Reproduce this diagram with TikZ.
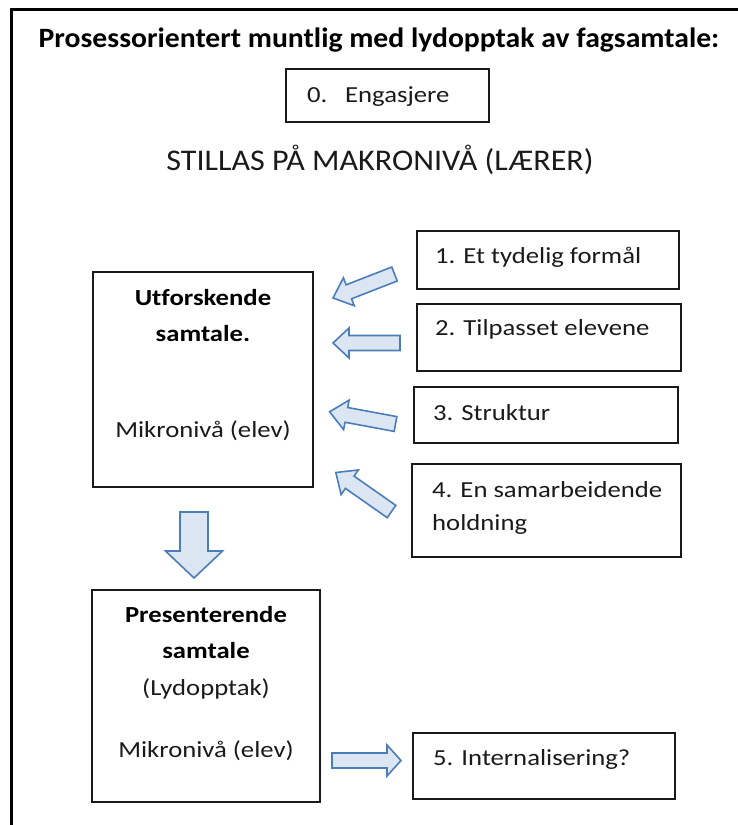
\documentclass[tikz,border=0pt]{standalone}
\usepackage{fontspec}
\setmainfont{Carlito}[FakeStretch=1.16, Ligatures=CommonOff]
\newfontfamily\titlefont{Carlito}[FakeStretch=1.06, Ligatures=CommonOff]
\newfontfamily\stillasfont{Carlito}[FakeStretch=1.07, Ligatures=CommonOff]
\definecolor{arrowblue}{HTML}{4A7EBB}
\definecolor{arrowfill}{HTML}{DCE6F2}
\definecolor{ink}{HTML}{1A1A1A}
\newcommand{\blockarrow}[6]{%
  \draw[barrow, shift={#1}, rotate=#2]
    (0,-#4) -- ({#3-#6},-#4) -- ({#3-#6},-#5) -- (#3,0) -- ({#3-#6},#5) -- ({#3-#6},#4) -- (0,#4) -- cycle;}
\begin{document}
\begin{tikzpicture}[x=1pt,y=-1pt,
  box/.style={draw=ink, line width=1.4pt, inner sep=0pt},
  barrow/.style={draw=arrowblue, fill=arrowfill, line width=1.6pt, line join=miter},
  body/.style={font=\fontsize{23}{27}\selectfont, inner sep=0pt, text=ink},
  bodyb/.style={font=\bfseries\fontsize{23}{27}\selectfont, inner sep=0pt, text=black},
]
\useasboundingbox (0,0) rectangle (738,825);
\begin{scope}
  \clip (0,0) rectangle (738,825);
  \draw[line width=3pt, draw=black] (11.5,9.5) rectangle (760,850);
\end{scope}

% title
\node[font=\titlefont\bfseries\fontsize{28}{32}\selectfont, inner sep=0pt, anchor=base] (title) at (379,47) {Prosessorientert muntlig med lydopptak av fagsamtale:};

% box 0
\node[box, minimum width=203pt, minimum height=53pt] (b0) at (387.5,95.5) {};
\node[body, anchor=base west] (t0) at (307,102) {\makebox[38pt][l]{0.}Engasjere};

\node[font=\stillasfont\fontsize{30}{34}\selectfont, inner sep=0pt, anchor=base, text=ink] (stillas) at (380,170) {STILLAS PÅ MAKRONIVÅ (LÆRER)};

% right boxes
\node[box, minimum width=262pt, minimum height=58pt] (b1) at (548,260) {};
\node[body, anchor=base west] (t1) at (435,263) {1. Et tydelig formål};
\node[box, minimum width=264pt, minimum height=67pt] (b2) at (549,337.5) {};
\node[body, anchor=base west] (t2) at (435,335) {2. Tilpasset elevene};
\node[box, minimum width=264pt, minimum height=56pt] (b3) at (546,415) {};
\node[body, anchor=base west] (t3) at (433,420) {3. Struktur};
\node[box, minimum width=269pt, minimum height=93pt] (b4) at (546.5,510.5) {};
\node[body, anchor=base west] (t4a) at (432,497) {4. En samarbeidende};
\node[body, anchor=base west] (t4b) at (432,530) {holdning};
\node[box, minimum width=262pt, minimum height=66pt] (b5) at (544,766) {};
\node[body, anchor=base west] (t5) at (433,765) {5. Internalisering?};

% left boxes
\node[box, minimum width=220pt, minimum height=215pt] (bU) at (203,379.5) {};
\node[bodyb, anchor=base] (tU1) at (203,305) {Utforskende};
\node[bodyb, anchor=base] (tU2) at (203,341) {samtale.};
\node[body, anchor=base] (tU3) at (203,437) {Mikronivå (elev)};

\node[box, minimum width=228pt, minimum height=212pt] (bP) at (206,696) {};
\node[bodyb, anchor=base] (tP1) at (206,622) {Presenterende};
\node[bodyb, anchor=base] (tP2) at (206,658) {samtale};
\node[body, anchor=base] (tP3) at (206,695) {(Lydopptak)};
\node[body, anchor=base] (tP4) at (206,757) {Mikronivå (elev)};

% block arrows
\coordinate (a1) at (394.5,274);
\coordinate (a2) at (400,343);
\coordinate (a3) at (395.5,424);
\coordinate (a4) at (391.5,511.5);
\coordinate (ad) at (194,512);
\coordinate (ar) at (332,760.5);
\blockarrow{(a1)}{201.3}{66}{7.5}{15}{17}
\blockarrow{(a2)}{180}{67}{7.5}{15}{16}
\blockarrow{(a3)}{169.5}{67}{7.5}{15}{17}
\blockarrow{(a4)}{145}{68}{7.5}{15}{17}
\blockarrow{(ad)}{270}{66}{14}{28.5}{27}
\blockarrow{(ar)}{0}{69}{7.5}{15.5}{14}
\end{tikzpicture}
\end{document}
